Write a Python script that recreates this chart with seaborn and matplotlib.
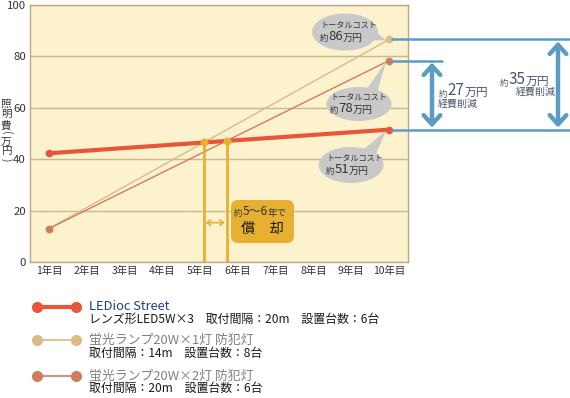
import matplotlib
matplotlib.use("Agg")
import matplotlib.pyplot as plt
import matplotlib.transforms as mtrans
from matplotlib.patches import Ellipse, Polygon, FancyBboxPatch, FancyArrowPatch
from matplotlib.lines import Line2D
from matplotlib.text import Annotation
import seaborn as sns
import pandas as pd

# ---------------- data ----------------
years = [1, 10]
year_labels = [f"{i}年目" for i in range(1, 11)]
led_cost = [42.3, 51.5]
fl1_cost = [13.0, 86.6]
fl2_cost = [13.0, 78.4]
series_names = ["LEDioc Street", "蛍光ランプ20W×1灯 防犯灯", "蛍光ランプ20W×2灯 防犯灯"]
series_sub = ["レンズ形LED5W×3　取付間隔：20m　設置台数：6台",
              "取付間隔：14m　設置台数：8台",
              "取付間隔：20m　設置台数：6台"]
total_labels = ["51", "86", "78"]
payback_x = [5.1, 5.7]
payback_y = [46.6, 47.1]
savings_labels = ["27", "35"]
yticks = [0, 20, 40, 60, 80, 100]
ylabel_chars = ["照", "明", "費", "(", "万", "円", ")"]

# ---------------- styles ----------------
C_LED = "#E8553A"
C_FL1 = "#D9BB85"
C_FL2 = "#D27B5C"
C_YEL = "#E8B030"
C_BLUE = "#5B9CC2"
C_GRID = "#C9B993"
C_BG = "#FDF2CE"
C_TXT = "#333333"
C_GRAY = "#C9C9C9"
C_SAVE = "#4A5570"

sns.set_theme(style="white")
plt.rcParams["font.family"] = ["Noto Sans CJK JP", "DejaVu Sans"]

W, H = 570, 398
fig = plt.figure(figsize=(W / 100, H / 100), dpi=100)
ax = fig.add_axes([30 / W, (H - 262) / H, 378 / W, 257 / H])
ax.set_facecolor(C_BG)

df = pd.DataFrame({
    "year": years * 3,
    "cost": led_cost + fl1_cost + fl2_cost,
    "series": [series_names[0]] * 2 + [series_names[1]] * 2 + [series_names[2]] * 2,
})
styles = {series_names[0]: (C_LED, 3.0, 5.5),
          series_names[1]: (C_FL1, 1.0, 5.5),
          series_names[2]: (C_FL2, 1.0, 5.5)}
order = [series_names[1], series_names[2], series_names[0]]
for name in order:
    c, lw, ms = styles[name]
    sns.lineplot(data=df[df["series"] == name], x="year", y="cost", ax=ax,
                 color=c, linewidth=lw, marker="o", markersize=ms,
                 markeredgewidth=0, legend=False, zorder=4)

ax.set_xlim(0.5, 10.5)
ax.set_ylim(0, 100)
ax.set_xticks(range(1, 11))
ax.set_xticklabels(year_labels)
ax.set_yticks(yticks)
ax.set_xlabel("")
ax.set_ylabel("")
ax.yaxis.grid(True, color=C_GRID, linewidth=1.0)
ax.xaxis.grid(False)
ax.set_axisbelow(True)
for s in ax.spines.values():
    s.set_color("#BBA986")
    s.set_linewidth(1.0)
ax.tick_params(axis="both", length=0, colors=C_TXT, labelsize=7.5)
ax.tick_params(axis="y", pad=3, labelsize=8.2)
ax.tick_params(axis="x", pad=3)

# payback markers
ax.vlines(payback_x, 0, payback_y, color=C_YEL, linewidth=2, zorder=5)
ax.scatter(payback_x, payback_y, s=34, color=C_YEL, zorder=6, linewidths=0)
ax.add_patch(FancyArrowPatch((payback_x[0] + 0.05, 15.3), (payback_x[1] - 0.05, 15.3),
                             arrowstyle="<->,head_length=0.25,head_width=0.2",
                             mutation_scale=10, color=C_YEL, lw=1.2,
                             shrinkA=0, shrinkB=0, zorder=5))

# pixel (top-left origin) transform
pix = mtrans.Affine2D().scale(1 / W, -1 / H).translate(0, 1) + fig.transFigure
pix_data = mtrans.blended_transform_factory(pix, ax.transData)


def data_px(x, y):
    dx, dy = ax.transData.transform((x, y))
    return dx, H - dy


def chain(pieces, x, y, color, zorder=8):
    """Text pieces [(text, size)] placed side by side, bottoms aligned."""
    first = fig.text(x, y, pieces[0][0], fontsize=pieces[0][1], color=color,
                     transform=pix, ha="left", va="bottom", zorder=zorder)
    prev = first
    for txt, sz in pieces[1:]:
        a = Annotation(txt, xy=(1, 0), xycoords=prev, fontsize=sz, color=color,
                       ha="left", va="bottom", annotation_clip=False)
        a.set_zorder(zorder)
        fig.add_artist(a)
        prev = a
    return first


# ---------------- callouts ----------------
callouts = [
    # value, ellipse cx, cy, w, h, tail base 1, tail base 2, text x, label
    (fl1_cost[1], 345, 32, 66, 37, (366, 40), (375, 31), 320, total_labels[1]),
    (fl2_cost[1], 359, 104, 65, 34, (366, 90), (377, 93), 330, total_labels[2]),
    (led_cost[1], 351, 165, 65, 36, (364, 149), (376, 154), 326, total_labels[0]),
]
for val, cx, cy, w, h, b1, b2, tx, lab in callouts:
    tipx, tipy = data_px(10, val)
    tipx -= 3
    tipy += 1
    fig.add_artist(Ellipse((cx, cy), w, h, transform=pix, facecolor=C_GRAY,
                           edgecolor="none", zorder=7))
    fig.add_artist(Polygon([b1, b2, (tipx, tipy)], closed=True, transform=pix,
                           facecolor=C_GRAY, edgecolor="none", zorder=7))
    fig.text(tx, cy - 5.5, "トータルコスト", fontsize=5.9, color=C_TXT,
             transform=pix, ha="left", va="center", zorder=8)
    chain([("約", 6.0), (lab, 9.5), ("万円", 7.2)], tx, cy + 11, C_TXT)

# ---------------- savings ----------------
ax_x_end, _ = data_px(10, 0)
for val, x_end in [(fl1_cost[1], W), (fl2_cost[1], 442), (led_cost[1], W)]:
    fig.add_artist(Line2D([ax_x_end + 3, x_end], [val, val], transform=pix_data,
                          color=C_BLUE, linewidth=1.8, zorder=6))
for x, top in [(432, fl2_cost[1]), (558, fl1_cost[1])]:
    fig.add_artist(FancyArrowPatch((x, top - 0.8), (x, led_cost[1] + 0.8),
                                   transform=pix_data,
                                   arrowstyle="<->,head_length=0.55,head_width=0.5",
                                   mutation_scale=12, color=C_BLUE, lw=3.2,
                                   shrinkA=0, shrinkB=0, zorder=6))

chain([("約", 6), (savings_labels[0], 11), ("万円", 8.5)], 439, 99, C_SAVE)
fig.text(438, 104, "経費削減", fontsize=7.2, color=C_SAVE, transform=pix,
         ha="left", va="center", zorder=8)
chain([("約", 6), (savings_labels[1], 11), ("万円", 8.5)], 500, 88, C_SAVE)
fig.text(556, 92, "経費削減", fontsize=7.2, color=C_SAVE, transform=pix,
         ha="right", va="center", zorder=8)

# ---------------- payback box ----------------
fig.add_artist(FancyBboxPatch((231, 200), 63, 43, transform=pix,
                              boxstyle="round,pad=0,rounding_size=7",
                              facecolor=C_YEL, edgecolor="none", zorder=7))
chain([("約", 6), ("5〜6", 8.6), ("年で", 6.8)], 234, 218, C_TXT)
fig.text(262, 229, "償　却", fontsize=10.3, color="#1A1A1A", transform=pix,
         ha="center", va="center", zorder=8)

# ---------------- y label (vertical writing) ----------------
ylabel_pos = [103.3, 114.3, 125, 133, 141.7, 151, 160]
for ch, yy in zip(ylabel_chars, ylabel_pos):
    rot = -90 if ch in "()" else 0
    fig.text(6, yy, ch, fontsize=7.6, color=C_TXT, transform=pix,
             ha="center", va="center", rotation=rot, rotation_mode="anchor")

# ---------------- legend ----------------
leg_y = [306.5, 340, 375.5]
leg_colors = [C_LED, C_FL1, C_FL2]
leg_lw = [3.0, 1.2, 1.2]
title_colors = ["#1F3F7F", "#808080", "#808080"]
for i in range(3):
    y = leg_y[i]
    fig.add_artist(Line2D([37, 76], [y, y], transform=pix, color=leg_colors[i],
                          linewidth=leg_lw[i], marker="o", markersize=8,
                          markeredgewidth=0))
    fig.text(89, y, series_names[i], fontsize=9.3, color=title_colors[i],
             transform=pix, ha="left", va="center")
    fig.text(89, y + 13, series_sub[i], fontsize=8.6, color="#1A1A1A",
             transform=pix, ha="left", va="center")

fig.savefig("out.png", dpi=100, facecolor="white")
